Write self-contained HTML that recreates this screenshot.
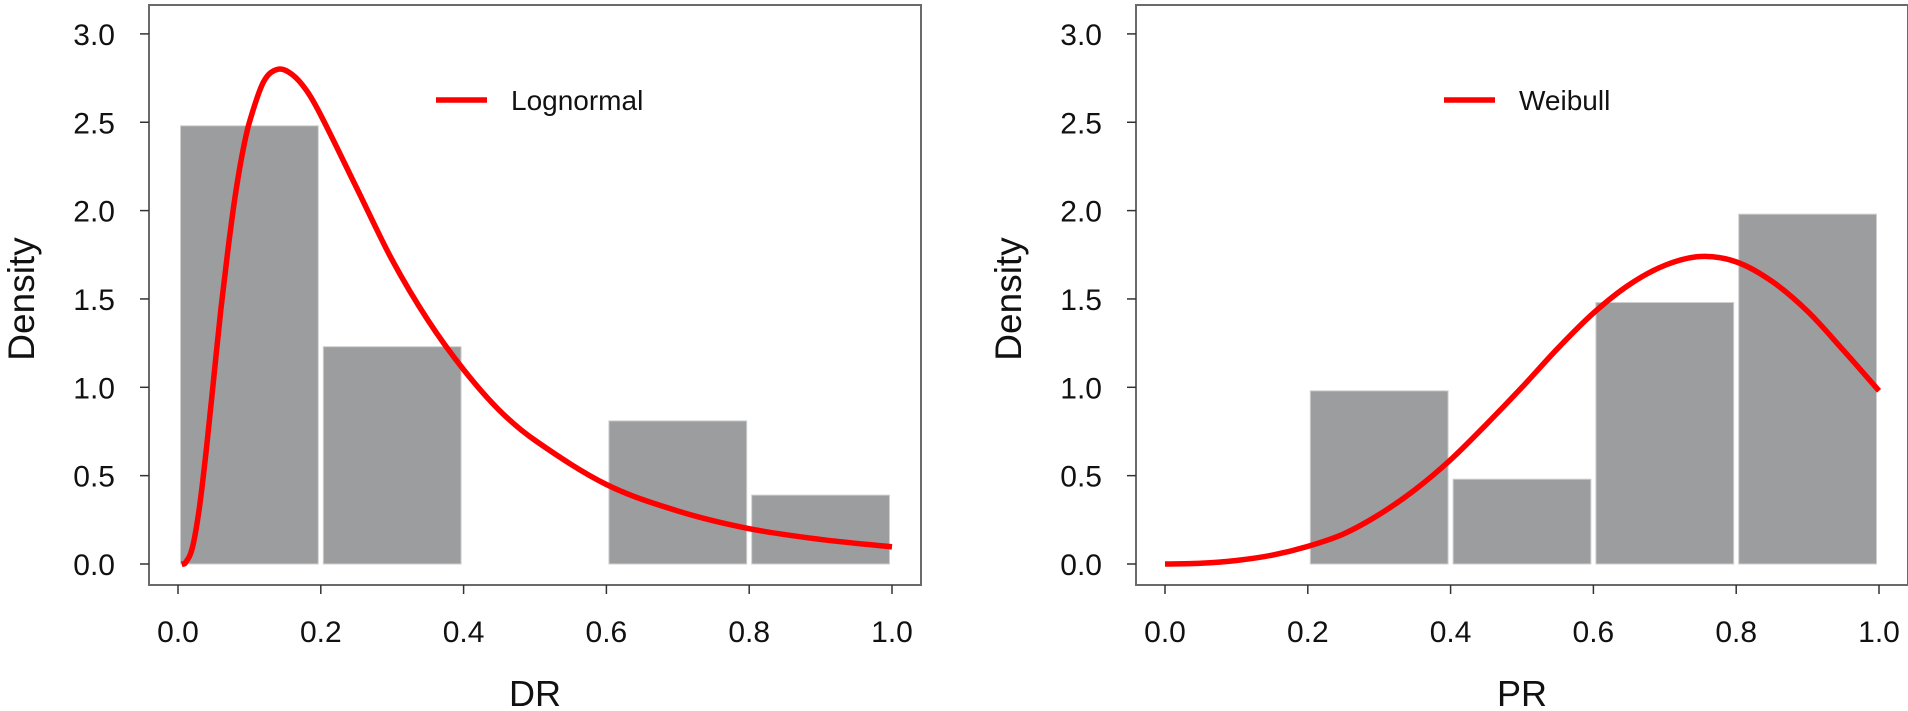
<!DOCTYPE html>
<html><head><meta charset="utf-8"><style>
html,body{margin:0;padding:0;background:#fff;}
svg{display:block;font-family:"Liberation Sans",Arial,sans-serif;}
</style></head><body>
<svg id="chart" width="1908" height="711" viewBox="0 0 1908 711" xmlns="http://www.w3.org/2000/svg"></svg>
<script>
const binEdges = [0, 0.2, 0.4, 0.6, 0.8, 1.0];
const drDensity = [2.48, 1.23, 0, 0.81, 0.39];
const prDensity = [0, 0.98, 0.48, 1.48, 1.98];
const xTicks = [0, 0.2, 0.4, 0.6, 0.8, 1.0];
const xTickLabels = ["0.0", "0.2", "0.4", "0.6", "0.8", "1.0"];
const yTicks = [0, 0.5, 1.0, 1.5, 2.0, 2.5, 3.0];
const yTickLabels = ["0.0", "0.5", "1.0", "1.5", "2.0", "2.5", "3.0"];
const lognormX = [0.005,0.01,0.02,0.03,0.04,0.05,0.06,0.07,0.08,0.09,0.10,0.12,0.14,0.16,0.18,0.20,0.25,0.30,0.35,0.40,0.45,0.50,0.60,0.70,0.80,0.90,1.00];
const lognormY = [0.0,0.005,0.09,0.32,0.66,1.05,1.44,1.78,2.08,2.32,2.50,2.73,2.80,2.77,2.68,2.54,2.13,1.72,1.38,1.10,0.87,0.70,0.45,0.30,0.20,0.139,0.097];
const weibullX = [0,0.05,0.10,0.15,0.20,0.25,0.30,0.35,0.40,0.45,0.50,0.55,0.60,0.65,0.70,0.75,0.80,0.85,0.90,0.95,1.00];
const weibullY = [0,0.004,0.02,0.05,0.10,0.17,0.28,0.42,0.59,0.79,1.00,1.22,1.42,1.58,1.69,1.74,1.71,1.60,1.43,1.21,0.98];

const NS = "http://www.w3.org/2000/svg";
const svg = document.getElementById("chart");
function mk(tag, attrs, parent) {
  const e = document.createElementNS(NS, tag);
  for (const k in attrs) e.setAttribute(k, attrs[k]);
  (parent || svg).appendChild(e);
  return e;
}
function smoothPath(pts) {
  const n = pts.length;
  const m = pts.map((p, i) => {
    const a = pts[Math.max(0, i - 1)], b = pts[Math.min(n - 1, i + 1)];
    return (b[1] - a[1]) / (b[0] - a[0]);
  });
  let d = "M" + pts[0][0] + "," + pts[0][1];
  for (let i = 0; i < n - 1; i++) {
    const p1 = pts[i], p2 = pts[i + 1], dx = (p2[0] - p1[0]) / 3;
    d += " C" + (p1[0] + dx) + "," + (p1[1] + m[i] * dx) + " " + (p2[0] - dx) + "," + (p2[1] - m[i + 1] * dx) + " " + p2[0] + "," + p2[1];
  }
  return d;
}
function panel(off, name, bars, cx, cy, legendText, xTitle) {
  const g = mk("g", {});
  
  
  const X = v => off + 178 + v * 714;
  const Y = v => 564 - v * 176.7;
  for (let i = 0; i < bars.length; i++) {
    if (bars[i] <= 0) continue;
    const r = mk("rect", {x: X(binEdges[i]) + 2.5, y: Y(bars[i]), width: X(binEdges[i+1]) - X(binEdges[i]) - 5, height: Y(0) - Y(bars[i]), fill: "#9c9d9f", stroke: "#d0d0d0", "stroke-width": 1}, g);
    
    
  }
  const pts = cx.map((v, i) => [X(v), Y(cy[i])]);
  const c = mk("path", {d: smoothPath(pts), fill: "none", stroke: "#ff0000", "stroke-width": 5.5, "stroke-linejoin": "round"}, g);
  
  
  const b = mk("rect", {x: off + 149, y: 5, width: 772, height: 580, fill: "none", stroke: "#6a6a6a", "stroke-width": 2}, g);
  
  
  yTicks.forEach((v, i) => {
    mk("line", {x1: off + 140, x2: off + 149, y1: Y(v), y2: Y(v), stroke: "#333", "stroke-width": 1.5}, g);
    const t = mk("text", {x: off + 115, y: Y(v) + 11, "text-anchor": "end", "font-size": 30, fill: "#111"}, g);
    t.textContent = yTickLabels[i];
    
    
  });
  xTicks.forEach((v, i) => {
    mk("line", {x1: X(v), x2: X(v), y1: 585, y2: 594, stroke: "#333", "stroke-width": 1.5}, g);
    const t = mk("text", {x: X(v), y: 642, "text-anchor": "middle", "font-size": 30, fill: "#111"}, g);
    t.textContent = xTickLabels[i];
    
    
  });
  const xt = mk("text", {x: X(0.5), y: 706, "text-anchor": "middle", "font-size": 36, fill: "#111"}, g);
  xt.textContent = xTitle;
  
  
  const yt = mk("text", {x: 0, y: 0, "text-anchor": "middle", "font-size": 37, fill: "#111", transform: "translate(" + (off + 34) + ",299) rotate(-90)"}, g);
  yt.textContent = "Density";
  
  
  const lg = mk("g", {}, g);
  
  
  const lx = off + (name === "dr" ? 436 : 457);
  mk("line", {x1: lx, x2: lx + 51, y1: 100, y2: 100, stroke: "#ff0000", "stroke-width": 5.5}, lg);
  const lt = mk("text", {x: lx + 75, y: 110, "font-size": 28, fill: "#111"}, lg);
  lt.textContent = legendText;
  
  
}
panel(0, "dr", drDensity, lognormX, lognormY, "Lognormal", "DR");
panel(987, "pr", prDensity, weibullX, weibullY, "Weibull", "PR");
</script>
</body></html>
